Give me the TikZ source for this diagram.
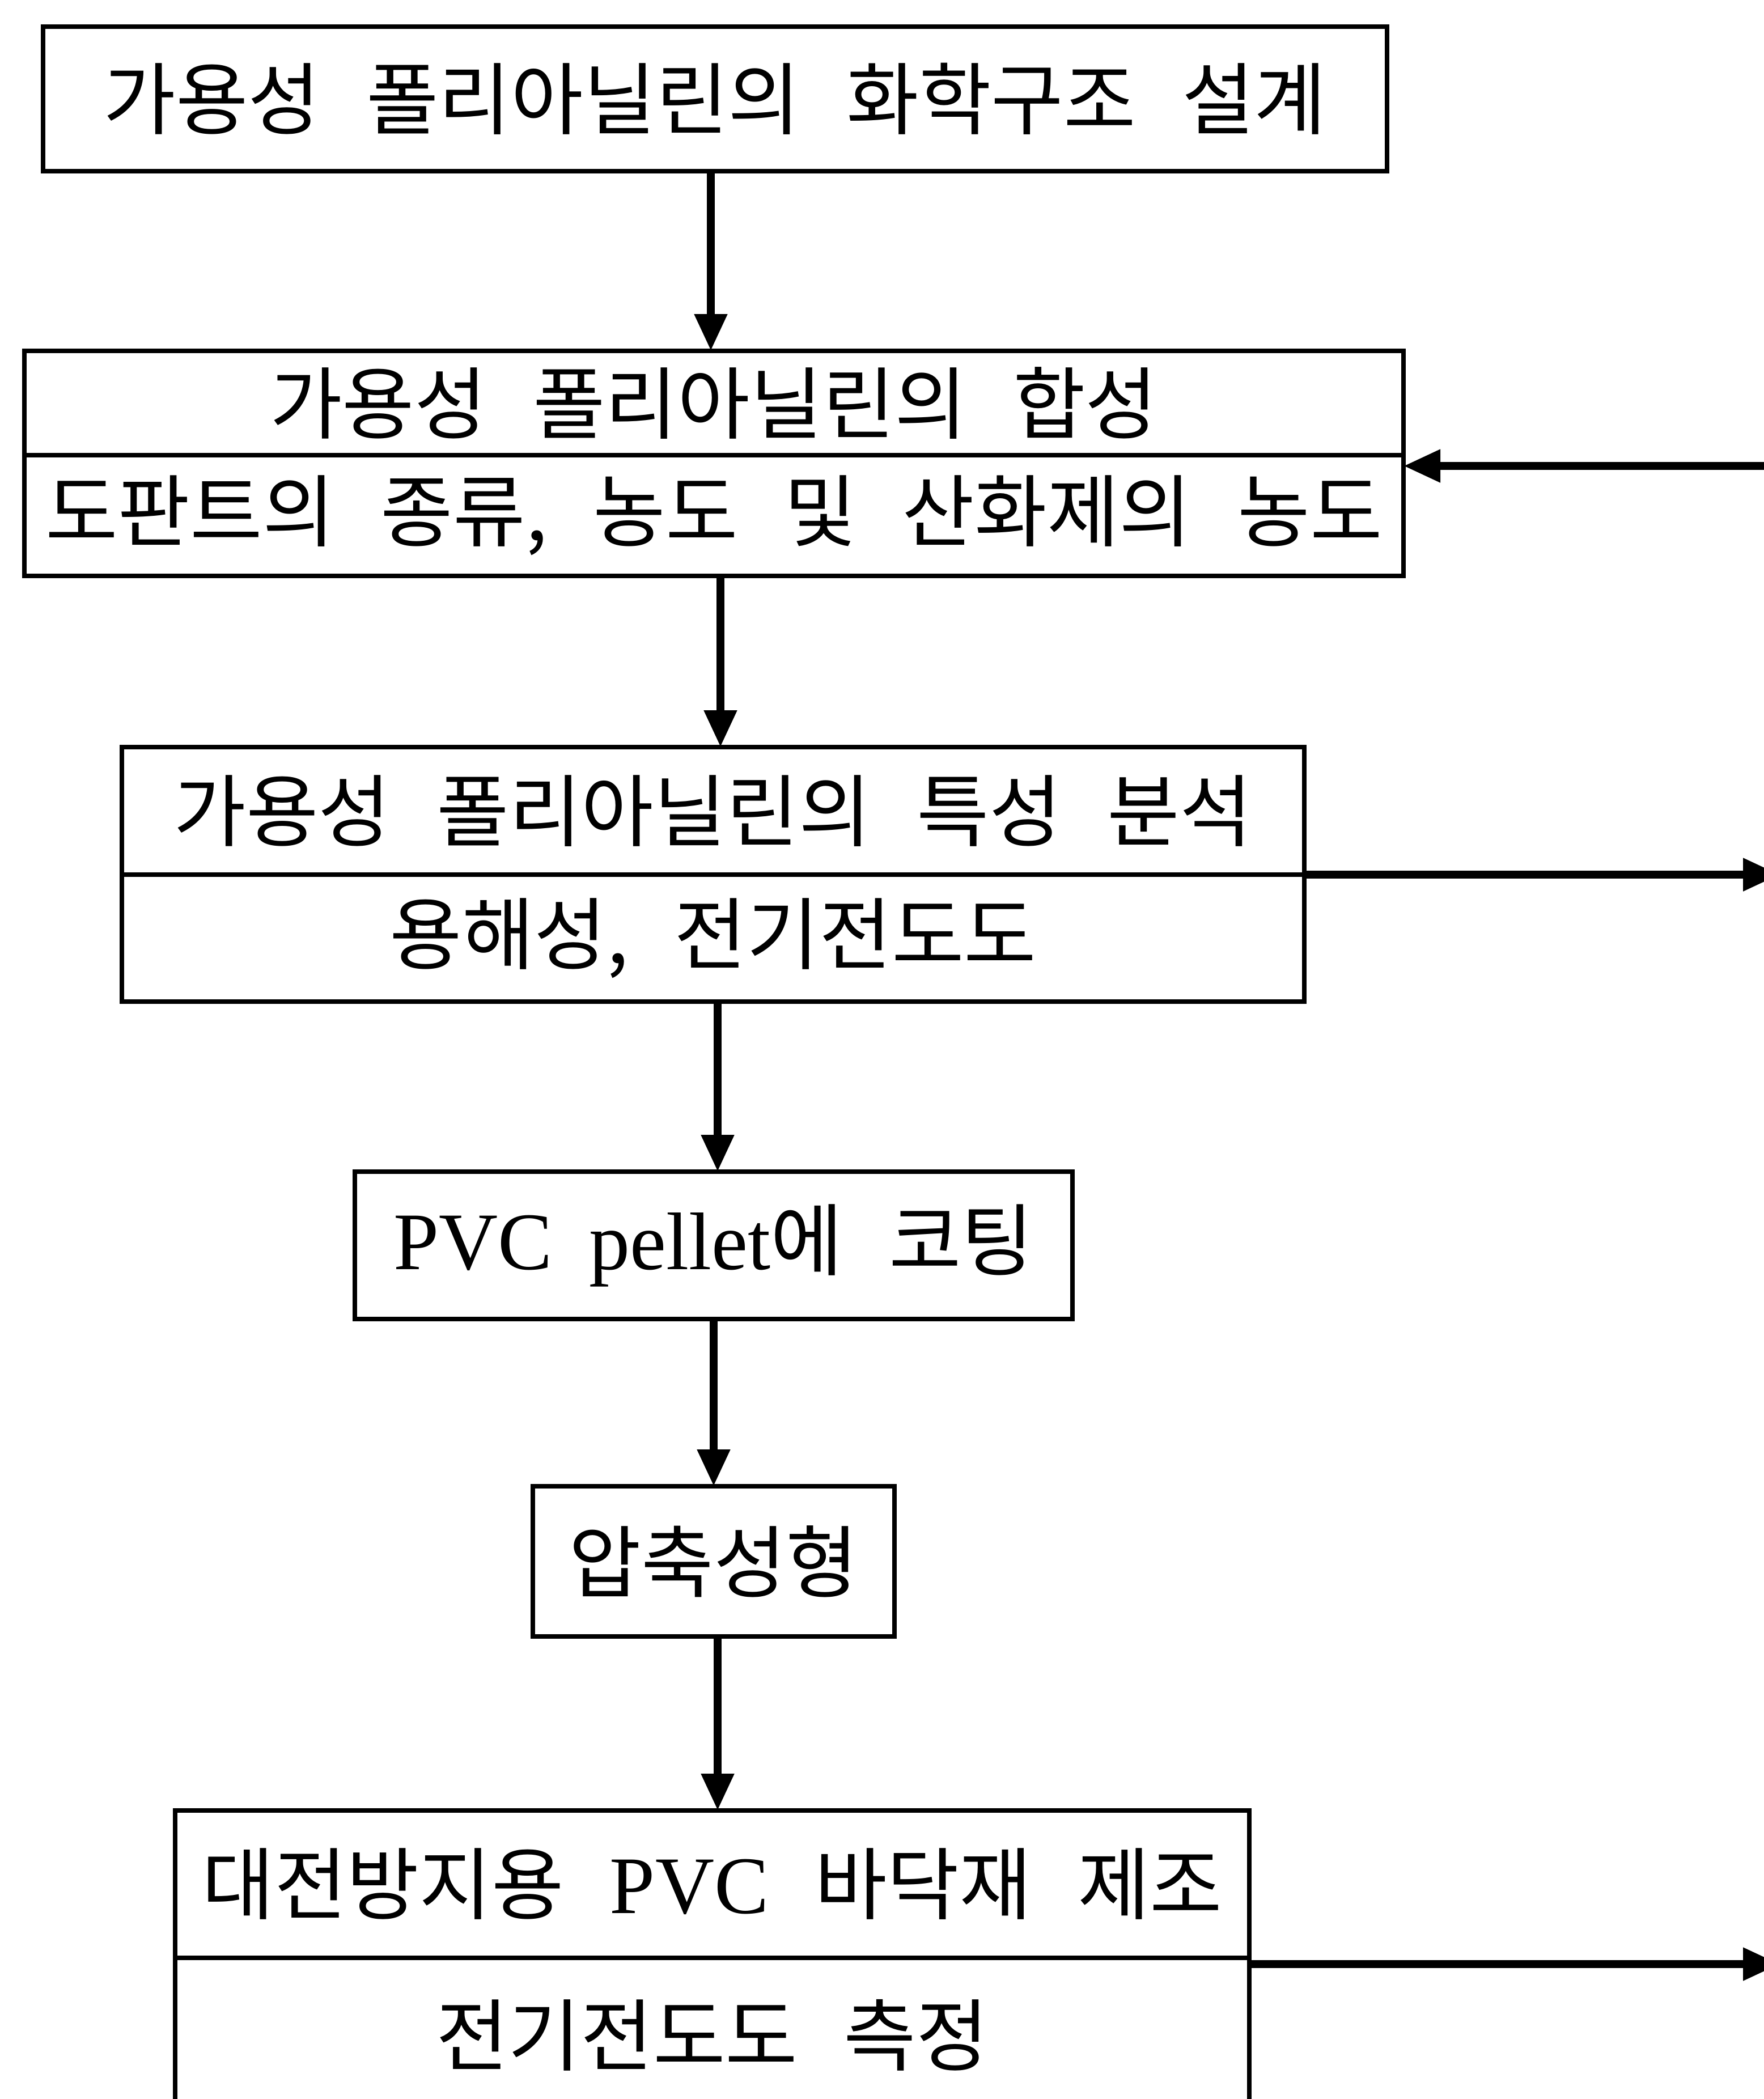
\documentclass[tikz,border=0pt]{standalone}
\usepackage{fontspec}
\setmainfont{Liberation Serif}[WordSpace=1.8]
\newfontfamily\kr{Noto Sans CJK KR}[WordSpace=2.6]
\usetikzlibrary{arrows.meta}
\tikzset{
  box/.style={draw, line width=2.4pt, inner sep=0pt, outer sep=0pt, anchor=center,
    font=\kr\fontsize{39.5}{42}\selectfont},
  arr/.style={line width=4pt, -{Triangle[length=0.65cm,width=0.55cm]}},
  lat/.style={},
}
\newcommand{\lt}[1]{{\rmfamily\fontsize{41}{42}\selectfont #1}}
\begin{document}
\begin{tikzpicture}[x=1cm,y=1cm]
\useasboundingbox (0,0) rectangle (31.11,-37.03);
% box 1
\node[box, minimum width=23.71cm, minimum height=2.55cm] (b1) at (12.615,-1.745) {가용성 폴리아닐린의 화학구조 설계};
% box 2
\node[box, minimum width=24.33cm, minimum height=1.84cm] (b2a) at (12.595,-7.11) {가용성 폴리아닐린의 합성};
\node[box, minimum width=24.33cm, minimum height=2.13cm] (b2b) at (12.595,-9.095) {도판트의 종류, 농도 및 산화제의 농도};
% box 3
\node[box, minimum width=20.86cm, minimum height=2.25cm] (b3a) at (12.58,-14.305) {가용성 폴리아닐린의 특성 분석};
\node[box, minimum width=20.86cm, minimum height=2.24cm] (b3b) at (12.58,-16.55) {용해성, 전기전도도};
% box 4
\node[box, minimum width=12.66cm, minimum height=2.60cm] (b4) at (12.59,-21.97) {\lt{PVC pellet}에 코팅};
% box 5
\node[box, minimum width=6.38cm, minimum height=2.65cm] (b5) at (12.59,-27.545) {압축성형};
% box 6
\node[box, minimum width=18.95cm, minimum height=2.60cm] (b6a) at (12.565,-33.24) {대전방지용 \lt{PVC} 바닥재 제조};
\node[box, minimum width=18.95cm, minimum height=2.72cm] (b6b) at (12.565,-35.9) {전기전도도 측정};
% free ends at the right edge
\coordinate (in2) at (31.3,-8.22);
\coordinate (out3) at (31.4,-15.43);
\coordinate (out6) at (31.4,-34.65);
% vertical arrows
\draw[arr] (b1.south -| 12.54,0) -- (b2a.north -| 12.54,0);
\draw[arr] (b2b.south -| 12.71,0) -- (b3a.north -| 12.71,0);
\draw[arr] (b3b.south -| 12.66,0) -- (b4.north -| 12.66,0);
\draw[arr] (b4.south -| 12.59,0) -- (b5.north -| 12.59,0);
\draw[arr] (b5.south -| 12.66,0) -- (b6a.north -| 12.66,0);
% horizontal arrows
\draw[arr] (in2) -- (in2 -| b2a.east);
\draw[arr] (out3 -| b3a.east) -- (out3);
\draw[arr] (out6 -| b6a.east) -- (out6);
\end{tikzpicture}
\end{document}
